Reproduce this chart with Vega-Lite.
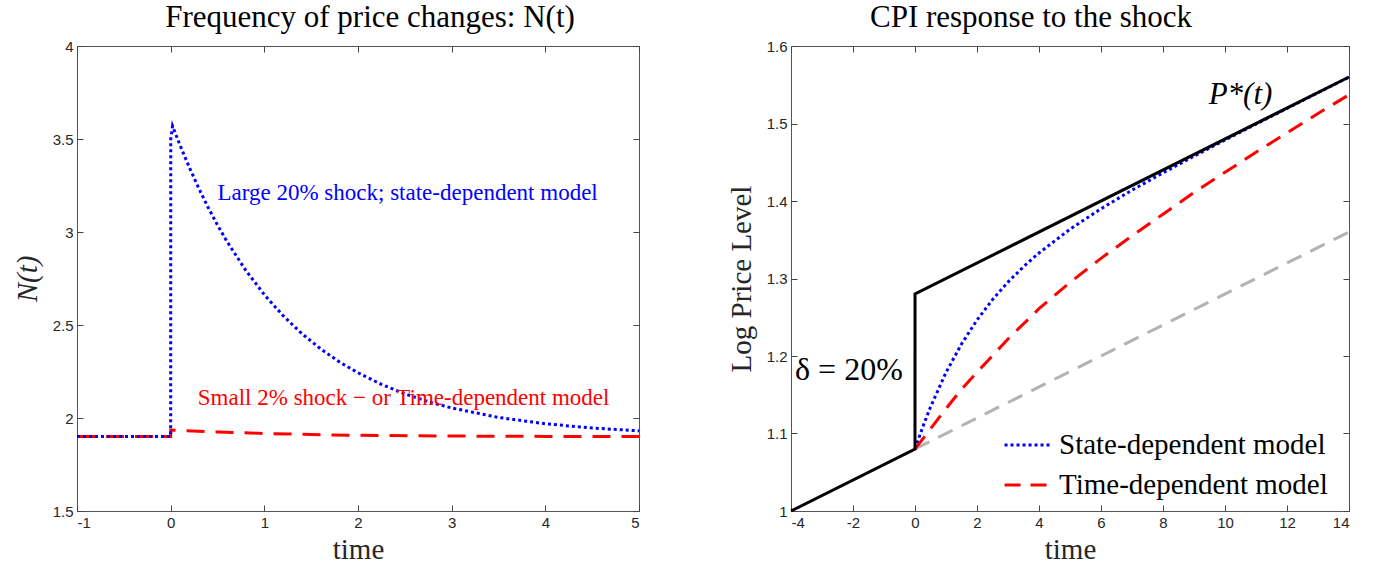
{
  "$schema": "https://vega.github.io/schema/vega-lite/v6.json",
  "background": "white",
  "padding": {"left": 12, "top": 1, "right": 5, "bottom": 5},
  "spacing": 80,
  "datasets": {
    "Lblue": [
      {"t": -1, "v": 1.9}, {"t": 0, "v": 1.9}, {"t": 0.001, "v": 3.5}, {"t": 0.02, "v": 3.57},
      {"t": 0.1, "v": 3.466}, {"t": 0.2, "v": 3.346}, {"t": 0.3, "v": 3.235}, {"t": 0.4, "v": 3.132},
      {"t": 0.5, "v": 3.037}, {"t": 0.6, "v": 2.95}, {"t": 0.8, "v": 2.795}, {"t": 1.0, "v": 2.663},
      {"t": 1.2, "v": 2.55}, {"t": 1.4, "v": 2.454}, {"t": 1.6, "v": 2.372}, {"t": 1.8, "v": 2.302},
      {"t": 2.0, "v": 2.243}, {"t": 2.25, "v": 2.181}, {"t": 2.5, "v": 2.13}, {"t": 2.75, "v": 2.088},
      {"t": 3.0, "v": 2.054}, {"t": 3.5, "v": 2.003}, {"t": 4.0, "v": 1.969}, {"t": 4.5, "v": 1.946},
      {"t": 5.0, "v": 1.931}
    ],
    "Lred": [
      {"t": -1, "v": 1.9}, {"t": 0, "v": 1.9}, {"t": 0.001, "v": 1.935}, {"t": 0.5, "v": 1.925},
      {"t": 1, "v": 1.917}, {"t": 1.5, "v": 1.911}, {"t": 2, "v": 1.907}, {"t": 3, "v": 1.903},
      {"t": 4, "v": 1.901}, {"t": 5, "v": 1.9}
    ],
    "Lnotes": [
      {"t": 0.5, "v": 3.21, "label": "Large 20% shock; state-dependent model", "c": "blue"},
      {"t": 0.29, "v": 2.11, "label": "Small 2% shock \u2212 or Time-dependent model", "c": "red"}
    ],
    "Rblack": [
      {"t": -4, "v": 1.0}, {"t": 0, "v": 1.08}, {"t": 0.001, "v": 1.28}, {"t": 14, "v": 1.56}
    ],
    "Rgray": [
      {"t": 0, "v": 1.08}, {"t": 14, "v": 1.36}
    ],
    "Rmodels": [
      {"t": 0, "v": 1.08, "model": "State-dependent model"},
      {"t": 0.25, "v": 1.1085, "model": "State-dependent model"},
      {"t": 0.5, "v": 1.1342, "model": "State-dependent model"},
      {"t": 1, "v": 1.1787, "model": "State-dependent model"},
      {"t": 1.5, "v": 1.2155, "model": "State-dependent model"},
      {"t": 2, "v": 1.2464, "model": "State-dependent model"},
      {"t": 2.5, "v": 1.2727, "model": "State-dependent model"},
      {"t": 3, "v": 1.2954, "model": "State-dependent model"},
      {"t": 3.5, "v": 1.3152, "model": "State-dependent model"},
      {"t": 4, "v": 1.3329, "model": "State-dependent model"},
      {"t": 5, "v": 1.3636, "model": "State-dependent model"},
      {"t": 6, "v": 1.39, "model": "State-dependent model"},
      {"t": 7, "v": 1.414, "model": "State-dependent model"},
      {"t": 8, "v": 1.4363, "model": "State-dependent model"},
      {"t": 9, "v": 1.4578, "model": "State-dependent model"},
      {"t": 10, "v": 1.4787, "model": "State-dependent model"},
      {"t": 11, "v": 1.4992, "model": "State-dependent model"},
      {"t": 12, "v": 1.5195, "model": "State-dependent model"},
      {"t": 13, "v": 1.5397, "model": "State-dependent model"},
      {"t": 14, "v": 1.5598, "model": "State-dependent model"},
      {"t": 0, "v": 1.08, "model": "Time-dependent model"},
      {"t": 0.5, "v": 1.106, "model": "Time-dependent model"},
      {"t": 1, "v": 1.132, "model": "Time-dependent model"},
      {"t": 1.5, "v": 1.157, "model": "Time-dependent model"},
      {"t": 2, "v": 1.179, "model": "Time-dependent model"},
      {"t": 3, "v": 1.222, "model": "Time-dependent model"},
      {"t": 4, "v": 1.261, "model": "Time-dependent model"},
      {"t": 5, "v": 1.295, "model": "Time-dependent model"},
      {"t": 6, "v": 1.326, "model": "Time-dependent model"},
      {"t": 7, "v": 1.355, "model": "Time-dependent model"},
      {"t": 8, "v": 1.383, "model": "Time-dependent model"},
      {"t": 9, "v": 1.411, "model": "Time-dependent model"},
      {"t": 10, "v": 1.437, "model": "Time-dependent model"},
      {"t": 11, "v": 1.463, "model": "Time-dependent model"},
      {"t": 12, "v": 1.488, "model": "Time-dependent model"},
      {"t": 13, "v": 1.513, "model": "Time-dependent model"},
      {"t": 14, "v": 1.537, "model": "Time-dependent model"}
    ],
    "RnoteP": [{"t": 10.5, "v": 1.537, "label": "P*(t)"}],
    "RnoteD": [{"t": -3.87, "v": 1.182, "label": "\u03b4 = 20%"}]
  },
  "hconcat": [
    {
      "width": 562,
      "height": 465,
      "title": {"text": "Frequency of price changes: N(t)", "dx": 12},
      "layer": [
        {
          "layer": [
            {
              "data": {"name": "Lred"},
              "mark": {"type": "line", "color": "#ff0000", "strokeWidth": 3, "strokeDash": [18, 11]},
              "encoding": {
                "x": {"field": "t", "type": "quantitative", "scale": {"domain": [-1, 5], "nice": false, "zero": false},
                      "axis": {"title": "time", "values": [-1, 0, 1, 2, 3, 4, 5], "labelExpr": "replace(format(datum.value, '~g'), '\u2212', '-')"}},
                "y": {"field": "v", "type": "quantitative", "scale": {"domain": [1.5, 4], "nice": false, "zero": false},
                      "axis": {"title": "N(t)", "titleFontStyle": "italic", "values": [1.5, 2, 2.5, 3, 3.5, 4], "labelExpr": "format(datum.value, '~g')"}}
              }
            },
            {
              "data": {"name": "Lblue"},
              "mark": {"type": "line", "color": "#0000ff", "strokeWidth": 3, "strokeDash": [3, 3]},
              "encoding": {
                "x": {"field": "t", "type": "quantitative"},
                "y": {"field": "v", "type": "quantitative"}
              }
            },
            {
              "data": {"name": "Lnotes"},
              "mark": {"type": "text", "align": "left", "baseline": "middle", "font": "Liberation Serif", "fontSize": 23},
              "encoding": {
                "x": {"field": "t", "type": "quantitative"},
                "y": {"field": "v", "type": "quantitative"},
                "text": {"field": "label"},
                "color": {"field": "c", "type": "nominal", "scale": {"domain": ["blue", "red"], "range": ["#0000ff", "#ff0000"]}, "legend": null}
              }
            }
          ]
        },
        {
          "data": {"name": "Lred"},
          "mark": {"type": "line", "strokeOpacity": 0},
          "encoding": {
            "x": {"field": "t", "type": "quantitative", "scale": {"domain": [-1, 5], "nice": false, "zero": false},
                  "axis": {"orient": "top", "labels": false, "title": null, "values": [-1, 0, 1, 2, 3, 4, 5]}},
            "y": {"field": "v", "type": "quantitative", "scale": {"domain": [1.5, 4], "nice": false, "zero": false},
                  "axis": {"orient": "right", "labels": false, "title": null, "values": [1.5, 2, 2.5, 3, 3.5, 4]}}
          }
        }
      ],
      "resolve": {"scale": {"x": "independent", "y": "independent"}}
    },
    {
      "width": 558,
      "height": 465,
      "title": {"text": "CPI response to the shock", "dx": -39},
      "layer": [
        {
          "layer": [
            {
              "data": {"name": "Rgray"},
              "mark": {"type": "line", "color": "#b3b3b3", "strokeWidth": 3, "strokeDash": [16, 10]},
              "encoding": {
                "x": {"field": "t", "type": "quantitative", "scale": {"domain": [-4, 14], "nice": false, "zero": false},
                      "axis": {"title": "time", "values": [-4, -2, 0, 2, 4, 6, 8, 10, 12, 14], "labelExpr": "replace(format(datum.value, '~g'), '\u2212', '-')"}},
                "y": {"field": "v", "type": "quantitative", "scale": {"domain": [1, 1.6], "nice": false, "zero": false},
                      "axis": {"title": "Log Price Level", "values": [1, 1.1, 1.2, 1.3, 1.4, 1.5, 1.6], "labelExpr": "format(datum.value, '~g')"}}
              }
            },
            {
              "data": {"name": "Rmodels"},
              "mark": {"type": "line", "strokeWidth": 3},
              "encoding": {
                "x": {"field": "t", "type": "quantitative"},
                "y": {"field": "v", "type": "quantitative"},
                "color": {"field": "model", "type": "nominal", "scale": {"domain": ["State-dependent model", "Time-dependent model"], "range": ["#0000ff", "#ff0000"]}, "legend": null},
                "strokeDash": {"field": "model", "type": "nominal",
                               "scale": {"domain": ["State-dependent model", "Time-dependent model"], "range": [[3, 3], [16, 10]]},
                               "legend": {"title": null, "orient": "none", "legendX": 926, "legendY": 374,
                                          "encode": {"symbols": {"update": {
                                            "stroke": {"signal": "datum.value === 'State-dependent model' ? '#0000ff' : '#ff0000'"}}}}}}
              }
            },
            {
              "data": {"name": "Rblack"},
              "mark": {"type": "line", "color": "#000000", "strokeWidth": 3},
              "encoding": {
                "x": {"field": "t", "type": "quantitative"},
                "y": {"field": "v", "type": "quantitative"}
              }
            },
            {
              "data": {"name": "RnoteP"},
              "mark": {"type": "text", "align": "center", "baseline": "middle", "font": "Liberation Serif", "fontStyle": "italic", "fontSize": 31, "color": "#000000"},
              "encoding": {
                "x": {"field": "t", "type": "quantitative"},
                "y": {"field": "v", "type": "quantitative"},
                "text": {"field": "label"}
              }
            },
            {
              "data": {"name": "RnoteD"},
              "mark": {"type": "text", "align": "left", "baseline": "middle", "font": "Liberation Serif", "fontSize": 32, "color": "#000000"},
              "encoding": {
                "x": {"field": "t", "type": "quantitative"},
                "y": {"field": "v", "type": "quantitative"},
                "text": {"field": "label"}
              }
            }
          ]
        },
        {
          "data": {"name": "Rgray"},
          "mark": {"type": "line", "strokeOpacity": 0},
          "encoding": {
            "x": {"field": "t", "type": "quantitative", "scale": {"domain": [-4, 14], "nice": false, "zero": false},
                  "axis": {"orient": "top", "labels": false, "title": null, "values": [-4, -2, 0, 2, 4, 6, 8, 10, 12, 14]}},
            "y": {"field": "v", "type": "quantitative", "scale": {"domain": [1, 1.6], "nice": false, "zero": false},
                  "axis": {"orient": "right", "labels": false, "title": null, "values": [1, 1.1, 1.2, 1.3, 1.4, 1.5, 1.6]}}
          }
        }
      ],
      "resolve": {"scale": {"x": "independent", "y": "independent"}}
    }
  ],
  "config": {
    "view": {"stroke": "#555555", "strokeWidth": 1},
    "title": {"font": "Liberation Serif", "fontSize": 31, "fontWeight": "normal", "color": "#000000", "offset": 5},
    "axis": {
      "grid": false,
      "domain": false,
      "ticks": true,
      "tickSize": -6,
      "tickColor": "#444444",
      "labelFont": "Liberation Sans",
      "labelFontSize": 15,
      "labelColor": "#262626",
      "labelPadding": 10,
      "titleFont": "Liberation Serif",
      "titleFontSize": 29,
      "titleFontWeight": "normal",
      "titleColor": "#262626"
    },
    "axisX": {"titlePadding": 5},
    "axisY": {"titlePadding": 10},
    "legend": {
      "symbolType": "stroke",
      "symbolSize": 2200,
      "symbolStrokeWidth": 3,
      "labelFont": "Liberation Serif",
      "labelFontSize": 29,
      "labelColor": "#000000",
      "labelOffset": 6,
      "rowPadding": -4,
      "labelLimit": 400
    }
  }
}
